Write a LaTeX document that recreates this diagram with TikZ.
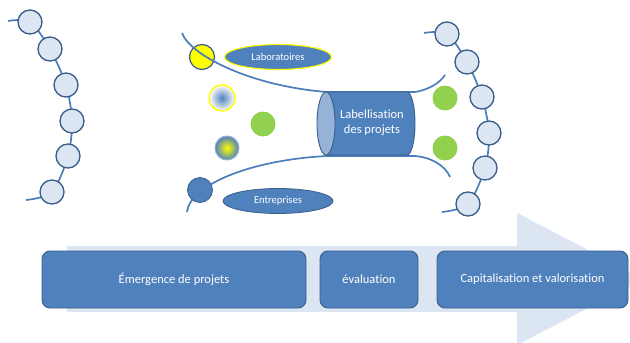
\documentclass[tikz,border=0pt]{standalone}
\usepackage{fontspec}
\setmainfont[Ligatures={NoCommon}]{Carlito}
\usetikzlibrary{shapes.geometric}
\definecolor{blueM}{HTML}{4F81BD}
\definecolor{blueD}{HTML}{385D8A}
\definecolor{blueLine}{HTML}{4A7EBB}
\definecolor{blueL}{HTML}{95B3D7}
\definecolor{blueP}{HTML}{DCE6F2}
\definecolor{greenD}{HTML}{92D050}
\definecolor{yel}{HTML}{FFFF00}
\begin{document}
\begin{tikzpicture}[x=1pt,y=-1pt,
  bead/.style={circle, draw=blueD, line width=1.3pt, fill=blueP, minimum size=24pt, inner sep=0pt},
  chainline/.style={draw=blueLine, line width=1.7pt},
  greendot/.style={circle, fill=greenD, minimum size=25pt, inner sep=0pt},
  stage/.style={rectangle, rounded corners=8pt, draw=blueD, line width=0.9pt, fill=blueM, text=white,
    font=\fontsize{12.5}{15}\selectfont, minimum height=57pt, inner sep=0pt},
  tag/.style={ellipse, fill=blueM, text=white, font=\fontsize{10.5}{12}\selectfont,
    minimum height=25pt, inner sep=0pt, line width=1.1pt}
]
\useasboundingbox (0,0) rectangle (630,343);
\clip (0,0) rectangle (630,343);

% big background arrow
\fill[blueP] (67,246) -- (517,246) -- (517,213) -- (644,279) -- (517,345) -- (517,312) -- (67,312) -- cycle;

% stages
\node[stage, minimum width=264pt] (s1) at (174,279.5) {Émergence de projets};
\node[stage, minimum width=98pt] (s2) at (369,279.5) {évaluation};
\node[stage, minimum width=191pt] (s3) at (532.5,279.5) {Capitalisation et valorisation};

% left chain
\coordinate (ls) at (8,21);
\coordinate (l1) at (30,22);
\coordinate (l2) at (50,49);
\coordinate (l3) at (66,85);
\coordinate (l4) at (72,121);
\coordinate (l5) at (68,156);
\coordinate (l6) at (52,192);
\coordinate (le) at (26,200);
\draw[chainline] plot[smooth, tension=0.5] coordinates {(ls) (l1) (l2) (l3) (l4) (l5) (l6) (le)};
\foreach \i in {1,...,6} \node[bead] (lb\i) at (l\i) {};

% right chain
\coordinate (rs) at (424,33);
\coordinate (r1) at (447,34);
\coordinate (r2) at (467,62);
\coordinate (r3) at (482,97);
\coordinate (r4) at (489,133);
\coordinate (r5) at (485,168);
\coordinate (r6) at (468,204);
\coordinate (re) at (442,212);
\draw[chainline] plot[smooth, tension=0.5] coordinates {(rs) (r1) (r2) (r3) (r4) (r5) (r6) (re)};
\foreach \i in {1,...,6} \node[bead] (rb\i) at (r\i) {};

% right green dots
\node[greendot] (g2) at (445,98) {};
\node[greendot] (g3) at (445,148) {};

% middle
\node[circle, fill=yel, draw=blueD, line width=1.2pt, minimum size=25pt, inner sep=0pt] (yc) at (202,57) {};
\coordinate (ts) at (182,33);
\coordinate (tl) at (327,92);
\coordinate (tr) at (415,92);
\coordinate (te) at (445,75);
\coordinate (bs) at (187,212);
\coordinate (bl) at (327,156);
\coordinate (br) at (415,156);
\coordinate (be) at (450,177);
\draw[chainline] (ts) .. controls (190,55) and (250,86) .. (tl) -- (tr) .. controls (428,90) and (440,83) .. (te);
\draw[chainline] (bs) .. controls (190,185) and (250,160) .. (bl) -- (br) .. controls (430,157) and (445,165) .. (be);
\node[circle, fill=blueM, draw=blueD, line width=0.8pt, minimum size=25pt, inner sep=0pt] (bc) at (200,190) {};

\node[circle, shading=radial, inner color=blueM, outer color=white, draw=yel, line width=1.4pt, minimum size=26pt, inner sep=0pt] (q1) at (222,98) {};
\node[circle, shading=radial, inner color=yel, outer color=blueM, draw=blueL, line width=1pt, minimum size=24pt, inner sep=0pt] (q2) at (227,148) {};
\node[greendot] (g1) at (263,124) {};

% cylinder
\filldraw[fill=blueM, draw=blueD, line width=0.9pt] (326,92) -- (407,92) arc[start angle=-90, end angle=90, x radius=8, y radius=31.5] -- (326,155) -- cycle;
\filldraw[fill=blueL, draw=blueD, line width=0.9pt] (326,123.5) ellipse[x radius=9, y radius=31.5];
\node[text=white, align=center, font=\fontsize{12.5}{15}\selectfont] (cyl) at (372,123) {Labellisation\\des projets};

% tags
\node[tag, draw=yel, minimum width=107pt] (lab) at (278,57) {Laboratoires};
\node[tag, draw=blueD, line width=0.8pt, minimum width=110pt] (ent) at (278,201) {Entreprises};
\end{tikzpicture}
\end{document}
